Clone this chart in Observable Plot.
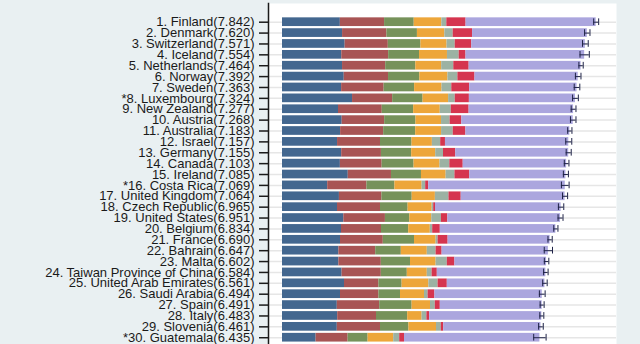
<!DOCTYPE html>
<html><head><meta charset="utf-8">
<script src="https://cdn.jsdelivr.net/npm/d3@7"></script>
<script src="https://cdn.jsdelivr.net/npm/@observablehq/plot@0.6"></script>
<style>
html,body{margin:0;padding:0;background:#e9f0f2;overflow:hidden;}
</style></head><body><div id="chart"></div>
<script>
const countries = ["Finland","Denmark","Switzerland","Iceland","Netherlands","Norway","Sweden","Luxembourg","New Zealand","Austria","Australia","Israel","Germany","Canada","Ireland","Costa Rica","United Kingdom","Czech Republic","United States","Belgium","France","Bahrain","Malta","Taiwan Province of China","United Arab Emirates","Saudi Arabia","Spain","Italy","Slovenia","Guatemala"];
const starred = ["Luxembourg","Costa Rica","Guatemala"];
const scores = [7.842,7.620,7.571,7.554,7.464,7.392,7.363,7.324,7.277,7.268,7.183,7.157,7.155,7.103,7.085,7.069,7.064,6.965,6.951,6.834,6.690,6.647,6.602,6.584,6.561,6.494,6.491,6.483,6.461,6.435];
const upper = [7.904,7.687,7.643,7.670,7.518,7.462,7.433,7.396,7.337,7.337,7.236,7.232,7.218,7.161,7.148,7.165,7.128,7.032,7.013,6.886,6.743,6.750,6.658,6.640,6.617,6.566,6.541,6.533,6.519,6.590];
const lower = [7.780,7.552,7.500,7.438,7.410,7.323,7.293,7.252,7.217,7.199,7.130,7.082,7.092,7.045,7.022,6.973,7.000,6.898,6.889,6.782,6.637,6.544,6.546,6.528,6.505,6.422,6.441,6.433,6.403,6.280];

const gdp        = [1.446,1.502,1.566,1.482,1.501,1.543,1.478,1.751,1.400,1.492,1.453,1.376,1.480,1.447,1.644,1.130,1.423,1.375,1.533,1.475,1.450,1.410,1.410,1.490,1.550,1.450,1.370,1.380,1.370,0.840];
const social     = [1.106,1.108,1.079,1.172,1.079,1.108,1.062,1.003,1.094,1.062,1.076,1.074,0.993,1.044,1.080,0.980,1.062,1.075,1.040,1.000,1.070,0.920,1.060,0.980,0.860,0.960,1.060,0.970,1.080,0.800];
const health     = [0.741,0.763,0.816,0.772,0.753,0.782,0.763,0.760,0.785,0.782,0.801,0.788,0.757,0.798,0.750,0.700,0.757,0.690,0.610,0.680,0.780,0.640,0.730,0.650,0.580,0.540,0.810,0.780,0.710,0.500];
const freedom    = [0.691,0.686,0.653,0.698,0.647,0.703,0.685,0.639,0.665,0.640,0.647,0.509,0.600,0.648,0.617,0.680,0.580,0.600,0.550,0.540,0.540,0.650,0.640,0.500,0.670,0.600,0.460,0.360,0.690,0.640];
const generosity = [0.124,0.208,0.204,0.293,0.302,0.249,0.244,0.166,0.276,0.215,0.291,0.208,0.195,0.246,0.220,0.090,0.340,0.040,0.240,0.060,0.050,0.220,0.280,0.120,0.230,0.090,0.120,0.120,0.120,0.150];
const corruption = [0.481,0.485,0.413,0.170,0.384,0.427,0.448,0.353,0.445,0.292,0.317,0.119,0.306,0.335,0.370,0.075,0.306,0.045,0.160,0.190,0.250,0.150,0.190,0.130,0.230,0.170,0.125,0.070,0.060,0.120];
const dystopia   = [3.253,2.868,2.840,2.967,2.798,2.580,2.683,2.652,2.612,2.785,2.598,3.083,2.824,2.585,2.404,3.414,2.596,3.140,2.818,2.889,2.550,2.657,2.292,2.714,2.441,2.684,2.546,2.803,2.431,3.385];

const factors = ["Explained by: GDP per capita","Explained by: Social support","Explained by: Healthy life expectancy","Explained by: Freedom to make life choices","Explained by: Generosity","Explained by: Perceptions of corruption","Dystopia (2.43) + residual"];
const colors = ["#43678f","#a85454","#76925a","#eda63a","#9cb2a3","#d5354f","#aba6de"];
const series = [gdp, social, health, freedom, generosity, corruption, dystopia];

const rows = countries.map((c, i) => ({country: c, score: scores[i], upper: upper[i], lower: lower[i],
  label: (starred.includes(c) ? "*" : "") + (i + 1) + ". " + c + "(" + scores[i].toFixed(3) + ")"}));
const labelMap = new Map(rows.map(r => [r.country, r.label]));
const long = [];
countries.forEach((c, i) => factors.forEach((f, j) => long.push({country: c, factor: f, value: series[j][i]})));

const ink = "#1f2347";
const chart = Plot.plot({
  width: 640, height: 344,
  marginLeft: 268, marginRight: 24, marginTop: 3, marginBottom: 0,
  style: {background: "#e9f0f2", fontFamily: "'Liberation Sans', Arial, sans-serif", fontSize: "13px", color: "#1a1a1a"},
  x: {domain: [-0.35, 8.35], axis: null},
  y: {domain: countries, padding: 0.2, paddingOuter: 0.1, round: false, insetTop: 13.26, insetBottom: 1.34, axis: null},
  color: {domain: factors, range: colors},
  marks: [
    Plot.frame({fill: "white", stroke: null}),
    Plot.gridY({stroke: "#e6e6e6", strokeOpacity: 1, strokeWidth: 1.5}),
    Plot.barX(long, {y: "country", x: "value", fill: "factor", order: factors}),
    Plot.ruleY(rows, {y: "country", x1: "lower", x2: "upper", stroke: ink, strokeWidth: 1}),
    Plot.tickX(rows, {y: "country", x: "lower", stroke: ink, strokeWidth: 1, insetTop: 1, insetBottom: 1}),
    Plot.tickX(rows, {y: "country", x: "upper", stroke: ink, strokeWidth: 1, insetTop: 1, insetBottom: 1}),
    Plot.axisY({tickSize: 9, tickPadding: 5, tickFormat: c => labelMap.get(c), fontSize: 13, stroke: "#1a1a1a", strokeWidth: 1.5, label: null}),
    Plot.frame({anchor: "left", stroke: "#1a1a1a", strokeWidth: 1.5})
  ]
});
document.getElementById("chart").append(chart);
</script></body></html>
